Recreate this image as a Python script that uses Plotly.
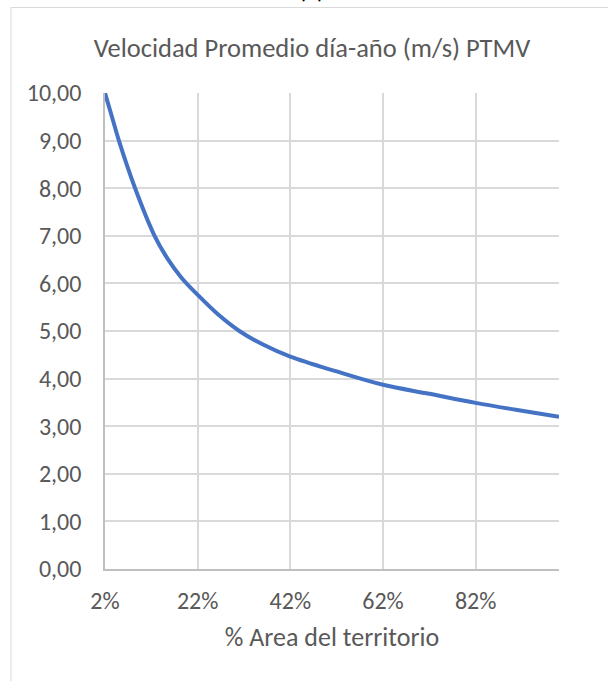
import plotly.graph_objects as go

# % of territory area and the average day-year wind speed (m/s)
area_pct = [2, 3.5, 5, 8.5, 12.7, 15.5, 18.5, 22, 26.5, 31, 36, 42,
            52, 62, 72, 82, 91, 100]
speed_ms = [10.0, 9.5, 9.0, 8.0, 7.0, 6.52, 6.12, 5.76, 5.34, 5.0, 4.72, 4.46,
            4.15, 3.87, 3.68, 3.49, 3.34, 3.20]

x_ticks = [2, 22, 42, 62, 82]
x_tick_text = ["2%", "22%", "42%", "62%", "82%"]
y_ticks = [0, 1, 2, 3, 4, 5, 6, 7, 8, 9, 10]
y_tick_text = ["0,00", "1,00", "2,00", "3,00", "4,00", "5,00",
               "6,00", "7,00", "8,00", "9,00", "10,00"]

W, H = 608, 681
L, R, T, B = 104.6, 559.0, 93.4, 568.8
pw, ph = R - L, B - T

FONT = "Carlito, Lato, Liberation Sans, sans-serif"
GREY = "#595959"

fig = go.Figure()
fig.add_trace(go.Scatter(
    x=area_pct, y=speed_ms, mode="lines",
    line=dict(color="#4472C4", width=4, shape="spline", smoothing=1.0),
    hoverinfo="skip", showlegend=False,
))

fig.update_layout(
    width=W, height=H,
    margin=dict(l=L, r=W - R, t=T, b=H - B, pad=0),
    paper_bgcolor="white", plot_bgcolor="white",
    font=dict(family=FONT, color=GREY, size=24),
    title=dict(text="Velocidad Promedio día-año (m/s) PTMV",
               x=312 / W, xanchor="center", xref="container",
               y=1 - 48 / H, yanchor="middle", yref="container",
               font=dict(size=26.5, color=GREY, family=FONT)),
    xaxis=dict(range=[2, 100], tickvals=x_ticks, ticktext=x_tick_text,
               showgrid=True, gridcolor="#D9D9D9", gridwidth=1.5,
               showline=True, linecolor="#BFBFBF", linewidth=1.5,
               zeroline=False, ticks="", ticklabelstandoff=9,
               tickfont=dict(size=24, color=GREY),
               title=dict(text="% Area del territorio", standoff=14,
                          font=dict(size=26, color=GREY))),
    yaxis=dict(range=[0, 10], tickvals=y_ticks, ticktext=y_tick_text,
               showgrid=True, gridcolor="#D9D9D9", gridwidth=1.5,
               showline=True, linecolor="#BFBFBF", linewidth=1.5,
               zeroline=False, ticks="", ticklabelstandoff=17,
               tickfont=dict(size=24, color=GREY)),
    shapes=[dict(type="rect", xref="paper", yref="paper",
                 x0=(10.5 - L) / pw, x1=(620 - L) / pw,
                 y0=-(700 - B) / ph, y1=1 + (T - 8) / ph,
                 line=dict(color="#D9D9D9", width=1), fillcolor="rgba(0,0,0,0)",
                 layer="below")],
    annotations=[dict(text="(c)", xref="paper", yref="paper",
                      x=(311 - L) / pw, y=1 + (T - 8) / ph,
                      xanchor="center", yanchor="bottom", showarrow=False,
                      font=dict(size=26, color="#000000", family=FONT))],
)

fig.write_html("out.html")
